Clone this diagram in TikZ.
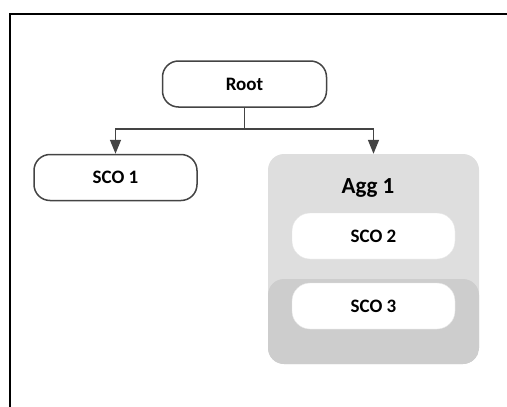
\documentclass[tikz,border=0pt]{standalone}
\usepackage{fontspec}
\setmainfont{Carlito}
\usetikzlibrary{arrows.meta}
\definecolor{linegray}{HTML}{444444}
\definecolor{agglight}{HTML}{DEDEDE}
\definecolor{aggdark}{HTML}{CDCDCD}
\tikzset{
  pill/.style={draw=linegray, line width=1.5pt, rounded corners=16pt, fill=white,
    minimum width=164pt, minimum height=46pt, font=\bfseries\fontsize{19}{22}\selectfont},
  member/.style={fill=white, draw=black!10, rounded corners=18pt,
    minimum width=163pt, minimum height=46pt, font=\bfseries\fontsize{19}{22}\selectfont},
  link/.style={draw=linegray, line width=1.5pt, -{Triangle[length=14pt,width=11pt]}}
}
\begin{document}
\begin{tikzpicture}[x=1pt, y=1pt]
    \useasboundingbox (0,0) rectangle (507,-407);
    % Frame (top and left edges)
    \draw[line width=2pt] (10,-407) -- (10,-14) -- (507,-14);

    % Aggregate box
    \node[minimum width=211pt, minimum height=210pt, rounded corners=16pt, fill=agglight,
      path picture={\fill[aggdark] ([yshift=-125pt]path picture bounding box.north west)
        rectangle (path picture bounding box.south east);}]
      (agg) at (373.5,-259) {};
    \node[font=\bfseries\fontsize{23}{27}\selectfont, anchor=base] (aggtitle) at (368,-193) {Agg 1};
    \node[member] (sco2) at (373.5,-236) {SCO 2};
    \node[member] (sco3) at (373.5,-306) {SCO 3};

    % Tree nodes
    \node[pill] (root) at (244.5,-84) {Root};
    \node[pill, minimum width=163pt] (sco1) at (115.5,-177.5) {SCO 1};

    % Connectors
    \coordinate (fork) at ([yshift=-21pt]root.south);
    \draw[draw=linegray, line width=1.5pt] (root.south) -- (fork);
    \draw[link] (fork) -| (sco1.north);
    \draw[link] (fork) -| (agg.north);
\end{tikzpicture}
\end{document}
